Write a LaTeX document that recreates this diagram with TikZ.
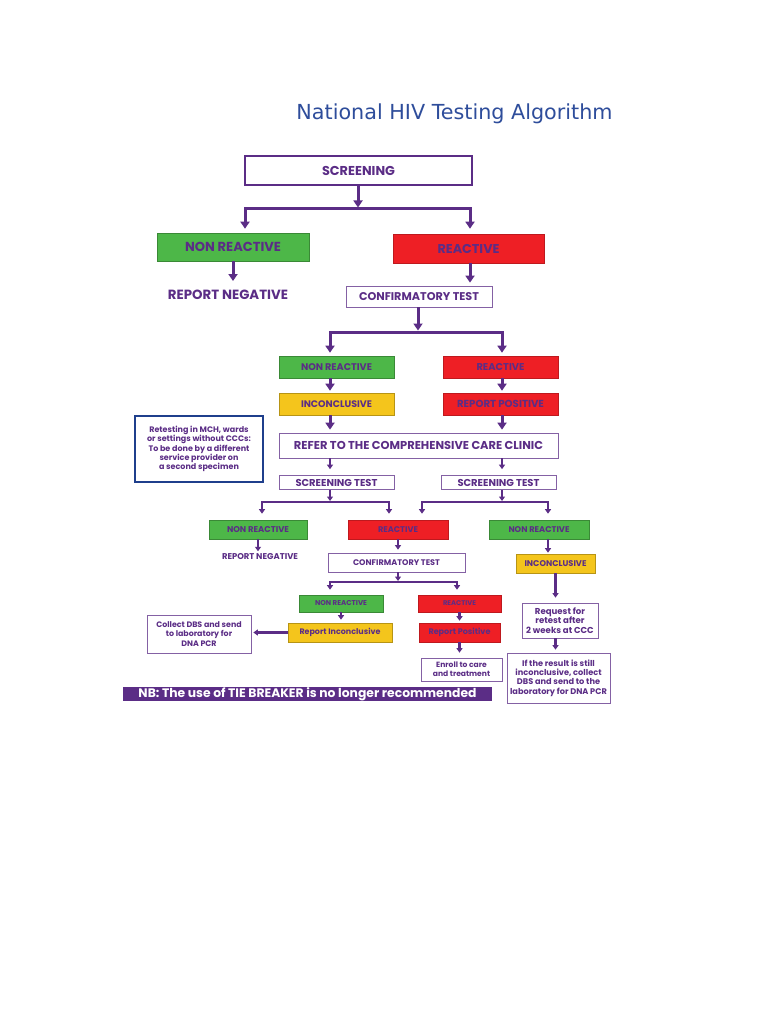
\documentclass[tikz,border=0pt]{standalone}
\usepackage{fontspec}
\setmainfont{Poppins}
\newfontfamily\titlefont{DejaVu Sans}
\usetikzlibrary{arrows.meta}
\definecolor{purp}{HTML}{5B2D86}
\definecolor{hgreen}{HTML}{4DB748}
\definecolor{hred}{HTML}{EE1F25}
\definecolor{hyellow}{HTML}{F4C51C}
\definecolor{tblue}{HTML}{2E4D9B}
\definecolor{nblue}{HTML}{1F3F8C}
\newcommand\fw[2]{\resizebox{#1pt}{!}{#2}}
\begin{document}
\begin{tikzpicture}[x=1pt,y=-1pt,
  every node/.style={inner sep=0pt, font=\bfseries, text=purp},
  wbox/.style={draw=purp!75, line width=0.7pt, fill=white},
  gbox/.style={draw=hgreen!75!black, line width=0.6pt, fill=hgreen},
  rbox/.style={draw=hred!80!black, line width=0.6pt, fill=hred},
  ybox/.style={draw=hyellow!75!black, line width=0.6pt, fill=hyellow},
  small/.style={font=\bfseries\fontsize{#1}{9.3}\selectfont, align=center},
  small/.default=8,
  arr/.style={draw=purp, line width=3pt, -{Triangle[width=9pt,length=7pt]}},
  fork/.style={draw=purp, line width=3pt, line join=miter, {Triangle[width=9pt,length=7pt]}-{Triangle[width=9pt,length=7pt]}},
  arrs/.style={draw=purp, line width=2.2pt, -{Triangle[width=6pt,length=4.5pt]}},
  forks/.style={draw=purp, line width=2.2pt, line join=miter, {Triangle[width=6pt,length=4.5pt]}-{Triangle[width=6pt,length=4.5pt]}}
]
\useasboundingbox (0,0) rectangle (768,1024);
\fill[white] (0,0) rectangle (768,1024);

% title
\node[text=tblue, font=\titlefont] (title) at (454.5,114) {\fw{316}{National HIV Testing Algorithm}};

% level 1
\node[wbox, draw=purp, line width=1.8pt, minimum width=227, minimum height=29] (scr) at (358.5,170.5) {\fw{73}{SCREENING}};
\node[gbox, minimum width=152, minimum height=28] (nr1) at (233,247) {\fw{96}{NON REACTIVE}};
\node[rbox, minimum width=151, minimum height=29] (r1) at (468.5,248.5) {\fw{62}{REACTIVE}};
\node (rn1) at (228,295) {\fw{120}{REPORT NEGATIVE}};
\node[wbox, minimum width=146, minimum height=21] (conf1) at (419,296.5) {\fw{120}{CONFIRMATORY TEST}};

% level 2
\node[gbox, minimum width=115, minimum height=22] (nr2) at (336.5,367) {\fw{71}{NON REACTIVE}};
\node[rbox, minimum width=115, minimum height=22] (r2) at (500.5,367) {\fw{48}{REACTIVE}};
\node[ybox, minimum width=115, minimum height=22] (inc1) at (336.5,404) {\fw{71}{INCONCLUSIVE}};
\node[rbox, minimum width=115, minimum height=22] (rp1) at (500.5,404) {\fw{87}{REPORT POSITIVE}};
\node[wbox, minimum width=279, minimum height=25] (refer) at (418.5,445.5) {\fw{249}{REFER TO THE COMPREHENSIVE CARE CLINIC}};
\node[draw=nblue, line width=1.8pt, fill=white, minimum width=128, minimum height=66, small=8] (note) at (199,449)
  {Retesting in MCH, wards\\or settings without CCCs:\\To be done by a different\\service provider on\\a second specimen};
\node[wbox, minimum width=115, minimum height=14] (st1) at (336.5,482.5) {\fw{82}{SCREENING TEST}};
\node[wbox, minimum width=115, minimum height=14] (st2) at (498.5,482.5) {\fw{82}{SCREENING TEST}};

% level 3
\node[gbox, minimum width=98, minimum height=19] (nr3) at (258,529.5) {\fw{62}{NON REACTIVE}};
\node[rbox, minimum width=100, minimum height=19] (r3) at (398,529.5) {\fw{40}{REACTIVE}};
\node[gbox, minimum width=100, minimum height=19] (nr4) at (539,529.5) {\fw{61}{NON REACTIVE}};
\node (rn2) at (260,557) {\fw{76}{REPORT NEGATIVE}};
\node[wbox, minimum width=137, minimum height=19] (conf2) at (396.5,562.5) {\fw{87}{CONFIRMATORY TEST}};
\node[ybox, minimum width=79, minimum height=19] (inc2) at (555.5,563.5) {\fw{62}{INCONCLUSIVE}};

% level 4
\node[gbox, minimum width=84, minimum height=17] (nr5) at (341,603.5) {\fw{52}{NON REACTIVE}};
\node[rbox, minimum width=83, minimum height=17] (r5) at (459.5,603.5) {\fw{33}{REACTIVE}};
\node[wbox, minimum width=76, minimum height=35, small=8.6] (req) at (560,620.5) {Request for\\retest after\\2 weeks at CCC};
\node[ybox, minimum width=104, minimum height=19] (repinc) at (340,632.5) {\fw{81}{Report Inconclusive}};
\node[wbox, minimum width=104, minimum height=38, small=7.9] (collect) at (199,634) {Collect DBS and send\\to laboratory for\\DNA PCR};
\node[rbox, minimum width=81, minimum height=19] (reppos) at (459.5,632.5) {\fw{62}{Report Positive}};
\node[wbox, minimum width=81, minimum height=23, small=7.6] (enroll) at (461.5,669.5) {Enroll to care\\and treatment};
\node[wbox, minimum width=103, minimum height=50, small=8.2] (ifres) at (558.5,678) {If the result is still\\inconclusive, collect\\DBS and send to the\\laboratory for DNA PCR};
\node[fill=purp, minimum width=369, minimum height=14, text=white] (nb) at (307.5,694) {\fw{338}{NB: The use of TIE BREAKER is no longer recommended}};

% connector coordinates
\coordinate (b1L) at (245,209); \coordinate (b1M) at (358,209); \coordinate (b1R) at (470,209);
\coordinate (b2L) at (330,332); \coordinate (b2M) at (418,332); \coordinate (b2R) at (502,332);
\coordinate (b3L) at (262,502); \coordinate (b3M) at (330,502); \coordinate (b3R) at (389,502);
\coordinate (b4L) at (422,502); \coordinate (b4M) at (502,502); \coordinate (b4R) at (548,502);
\coordinate (b5L) at (330,582); \coordinate (b5M) at (398,582); \coordinate (b5R) at (457,582);

% level 1 connectors
\draw[arr, shorten >=1.5pt] (scr.south -| b1M) -- (b1M);
\draw[fork, shorten <=4pt, shorten >=5pt] (b1L |- nr1.north) -- (b1L) -- (b1R) -- (b1R |- r1.north);
\draw[arr, shorten >=9pt] (nr1.south) -- (nr1.south |- rn1.north);
\draw[arr, shorten >=3pt] (b1R |- r1.south) -- (b1R |- conf1.north);

% level 2 connectors
\draw[arr, shorten >=1.5pt] (conf1.south -| b2M) -- (b2M);
\draw[fork, shorten <=3pt, shorten >=3pt] (b2L |- nr2.north) -- (b2L) -- (b2R) -- (b2R |- r2.north);
\draw[arr, shorten >=2pt] (b2L |- nr2.south) -- (b2L |- inc1.north);
\draw[arr, shorten >=2pt] (b2R |- r2.south) -- (b2R |- rp1.north);
\draw[arr, shorten >=3pt] (b2L |- inc1.south) -- (b2L |- refer.north);
\draw[arr, shorten >=3pt] (b2R |- rp1.south) -- (b2R |- refer.north);
\draw[arrs, shorten >=6pt] (b2L |- refer.south) -- (b2L |- st1.north);
\draw[arrs, shorten >=6pt] (b2R |- refer.south) -- (b2R |- st2.north);

% level 3 connectors
\draw[arrs, shorten >=1pt] (st1.south -| b3M) -- (b3M);
\draw[forks, shorten <=6pt, shorten >=6pt] (b3L |- nr3.north) -- (b3L) -- (b3R) -- (b3R |- r3.north);
\draw[arrs, shorten >=1pt] (st2.south -| b4M) -- (b4M);
\draw[forks, shorten <=6pt, shorten >=6pt] (b4L |- r3.north) -- (b4L) -- (b4R) -- (b4R |- nr4.north);
\draw[arrs, shorten >=2.5pt] (nr3.south) -- (nr3.south |- rn2.north);
\draw[arrs, shorten >=3pt] (r3.south) -- (r3.south |- conf2.north);
\draw[arrs, shorten >=1pt] (b4R |- nr4.south) -- (b4R |- inc2.north);

% level 4 connectors
\draw[arrs, shorten >=1pt] (conf2.south -| b5M) -- (b5M);
\draw[forks, shorten <=5pt, shorten >=5pt] (b5L |- nr5.north) -- (b5L) -- (b5R) -- (b5R |- r5.north);
\draw[arrs, shorten >=5pt] (inc2.south) -- (inc2.south |- req.north);
\draw[arrs, shorten >=3pt] (inc2.south |- req.south) -- (inc2.south |- ifres.north);
\draw[arrs, shorten >=3pt] (nr5.south) -- (nr5.south |- repinc.north);
\draw[arrs, shorten >=2pt] (repinc.west) -- (repinc.west -| collect.east);
\draw[arrs, shorten >=2pt] (r5.south) -- (r5.south |- reppos.north);
\draw[arrs, shorten >=5pt] (reppos.south) -- (reppos.south |- enroll.north);
\end{tikzpicture}
\end{document}
